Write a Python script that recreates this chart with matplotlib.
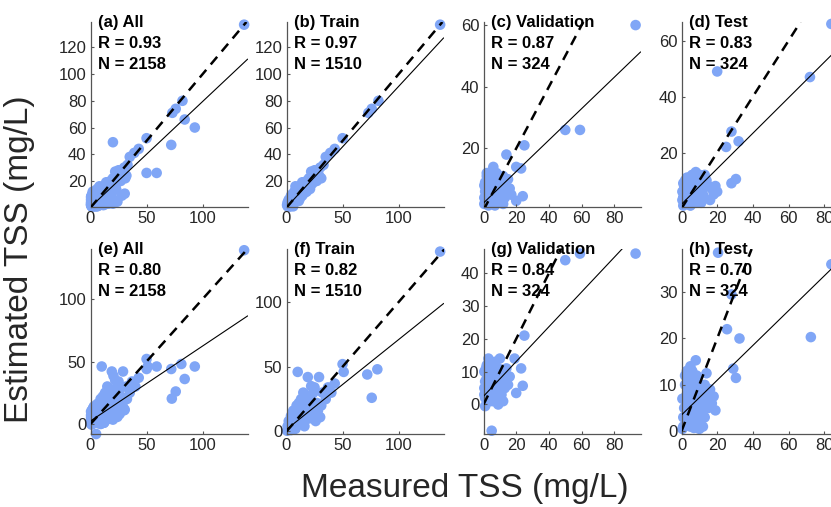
import matplotlib.pyplot as plt

plt.rcParams['font.family'] = ['Liberation Sans', 'DejaVu Sans']

# measured / estimated TSS (mg/L)
# model 1 (top row)
train1_x = [137, 82, 76, 73, 50, 43, 39, 35, 30, 31, 27, 18, 12, 3, 1, 0.5, 6, 4, 8, 14, 22,
            1, 2, 3, 4, 5, 6, 7, 8, 10, 10, 12, 9, 13, 15, 15, 17, 18, 20, 20, 22, 24, 26, 25, 28,
            2, 5, 7, 11, 16, 19, 23, 29, 33, 11, 6, 3, 14, 21]
train1_y = [137, 80, 74, 71, 52, 44, 41, 38, 30, 22, 20, 12, 7, 0.8, 4, 2, 3, 9, 16, 19, 27,
            1, 3, 2, 5, 4, 7, 6, 9, 8, 12, 10, 15, 14, 13, 17, 15, 20, 18, 22, 20, 25, 24, 28, 26,
            6, 10, 12, 14, 11, 16, 18, 24, 32, 5, 1, 6, 9, 14]
val1_x = [93, 50, 59, 25, 14, 20, 23, 24, 20, 6, 0.5, 1, 1, 2, 2, 3, 3, 4, 4, 5, 5, 6, 6, 7, 7,
          8, 8, 9, 10, 10, 11, 12, 13, 14, 16, 3, 1, 2, 12, 9,
          0.5, 1.5, 2.5, 4, 5, 6.5, 8, 9.5, 11, 13, 15, 17, 3.5, 0.5, 2]
val1_y = [60, 26, 26, 21, 18, 14, 13.5, 4.5, 3, 14, 2, 4, 6, 3, 8, 1.5, 5, 10, 3, 7, 2, 4, 11, 9,
          1.5, 5, 12, 3, 8, 10, 6, 11, 4, 7, 7, 12, 9, 11, 2, 6,
          4, 7, 9, 6, 12, 7, 10, 9, 9, 9, 10, 5, 3, 8, 12]
test1_x = [84, 20, 72, 28, 25, 32, 30.5, 28, 1, 1, 2, 2, 3, 3, 4, 4, 5, 5, 6, 6, 7, 7, 8, 8, 9,
           10, 10, 11, 12, 13, 14, 15, 18, 19, 2, 0.5, 11, 16,
           0.5, 1.5, 3, 4.5, 6, 7.5, 9, 10.5, 12, 14, 17, 20, 5, 8, 1]
test1_y = [66, 49, 47, 27.5, 22, 24, 10.5, 9, 1, 4, 7, 2, 5, 9, 3, 11, 6, 1, 8, 12, 4, 10, 6, 13,
           3, 9, 12, 7, 5, 12, 8, 8, 5, 8, 10, 6, 2, 3,
           3, 8, 11, 8, 10, 12, 11, 5, 10, 10, 7, 6, 4, 2, 9]

# model 2 (bottom row)
train2_x = [137, 81, 72, 76, 50, 51, 10, 19, 29, 25, 15, 37, 43, 35, 30, 22, 20, 18, 12, 8, 5,
            3, 2, 1, 6, 10, 14, 16, 20, 24, 26, 28, 12, 9, 4, 0.5, 7, 17, 32, 40, 22, 13,
            2, 4, 6, 9, 11, 14, 17, 20, 23, 27, 31, 3, 8, 12, 16, 24]
train2_y = [139, 48, 44, 26, 52, 46, 46, 42, 42, 34, 30, 34, 37, 25, 11, 28, 20, 15, 18, 14, 10,
            6, 2, 4, 3, 5, 8, 4, 10, 12, 8, 16, 12, 20, 1, 0.5, 7, 24, 30, 30, 35, 25,
            8, 12, 16, 10, 22, 18, 12, 25, 18, 22, 20, 3, 2, 6, 9, 30]
val2_x = [93, 59, 50, 25, 19, 23, 24, 20, 16, 10, 5, 1, 9, 0.5, 1, 2, 2, 3, 3, 4, 4, 5, 5, 6, 6,
          7, 7, 8, 8, 9, 10, 11, 12, 13, 14, 15, 0.5, 3, 12, 1,
          1.5, 2.5, 4, 5.5, 7, 8.5, 10, 11.5, 13, 2, 6, 9, 4, 0.5]
val2_y = [46, 46, 44, 21, 14, 11, 5.7, 3.5, 8.5, 14, -8, -0.5, 0, 5, 2, 8, 4, 10, 1, 6, 12, 3, 9,
          11, 1, 6, 13, 4, 9, 11, 7, 3, 9, 5, 11, 6, 10, 14, 1, 7,
          11, 6, 8, 10, 8, 6, 10, 7, 8, 12, 5, 3, 1, 3]
test2_x = [20.5, 84, 72.5, 28, 25.5, 32.5, 29, 30.5, 8, 14, 18, 19, 7, 0.5, 1, 1, 2, 2, 3, 3, 4,
           4, 5, 5, 6, 6, 7, 7, 8, 9, 9, 10, 11, 12, 13, 15, 16, 3, 10, 5, 0.5,
           1.5, 2.5, 4, 5.5, 7, 8.5, 10, 11.5, 13, 14.5, 17, 6, 9, 2, 12]
test2_y = [38.5, 36, 20.3, 29.5, 22, 20, 13.5, 11.5, 15.3, 12.5, 7.5, 4.5, 0.7, 7, 3, 1, 5, 10, 2,
           8, 4, 12, 6, 1, 9, 3, 11, 5, 7, 2, 10, 6, 4, 8, 3, 5, 9, 13, 0.5, 14, 0.5,
           5, 7, 9, 11, 8, 12, 9, 6, 10, 7, 6, 13, 4, 12, 1]

titles = ['(a) All', '(b) Train', '(c) Validation', '(d) Test',
          '(e) All', '(f) Train', '(g) Validation', '(h) Test']
r_vals = ['0.93', '0.97', '0.87', '0.83', '0.80', '0.82', '0.84', '0.70']
n_vals = ['2158', '1510', '324', '324', '2158', '1510', '324', '324']

# fitted line (slope, intercept)
fit_slope = [0.79, 0.905, 0.51, 0.635, 0.60, 0.695, 0.53, 0.375]
fit_icpt = [0.5, 0.3, 2.3, 1.5, 2.4, 1.5, 2.5, 3.5]

xlims = [(0, 140), (0, 140), (0, 96), (0, 88), (0, 140), (0, 140), (0, 96), (0, 88)]
ylims = [(0.5, 139), (0.5, 139), (1, 61), (0.5, 66.7),
         (-8, 140), (-2, 141), (-9, 47.4), (-0.6, 39.3)]
xticks = [[0, 50, 100], [0, 50, 100], [0, 20, 40, 60, 80], [0, 20, 40, 60, 80]] * 2
yticks = [[20, 40, 60, 80, 100, 120], [20, 40, 60, 80, 100, 120], [20, 40, 60], [20, 40, 60],
          [0, 50, 100], [0, 50, 100], [0, 10, 20, 30, 40], [0, 10, 20, 30]]

xs = [train1_x + val1_x + test1_x, train1_x, val1_x, test1_x,
      train2_x + val2_x + test2_x, train2_x, val2_x, test2_x]
ys = [train1_y + val1_y + test1_y, train1_y, val1_y, test1_y,
      train2_y + val2_y + test2_y, train2_y, val2_y, test2_y]

W, H = 831, 507
fig = plt.figure(figsize=(W / 100, H / 100), dpi=100)

lefts = [90.5, 286.5, 483.5, 681.5]
tops = [22, 249]
aw, ah = 157, 185
dark = '#262626'
blue = '#80A6F6'

for i in range(8):
    r, c = divmod(i, 4)
    ax = fig.add_axes([lefts[c] / W, 1 - (tops[r] + ah) / H, aw / W, ah / H])
    ax.patch.set_visible(False)
    ax.scatter(xs[i], ys[i], s=58, color=blue, edgecolors='none', clip_on=False, zorder=1)
    x0, x1 = xlims[i]
    ax.plot([x0, x1], [fit_icpt[i] + fit_slope[i] * x0, fit_icpt[i] + fit_slope[i] * x1],
            color='black', lw=0.8, zorder=3)
    top = ylims[i][1]
    ax.plot([0, top], [0, top], color='black', lw=1.8, ls=(0, (4, 2.8)), zorder=3)
    ax.set_xlim(xlims[i])
    ax.set_ylim(ylims[i])
    ax.set_xticks(xticks[i])
    ax.set_yticks(yticks[i])
    for s in ['top', 'right']:
        ax.spines[s].set_visible(False)
    for s in ['left', 'bottom']:
        ax.spines[s].set_color('#555555')
        ax.spines[s].set_linewidth(0.9)
    ax.tick_params(direction='in', length=2.5, width=0.8, color='#555555',
                   labelsize=12, labelcolor=dark, pad=3)
    lines = [titles[i], 'R = ' + r_vals[i], 'N = ' + n_vals[i]]
    for k, t in enumerate(lines):
        ax.annotate(t, xy=(0, 1), xycoords='axes fraction', xytext=(5.5, -3.6 - 15.1 * k),
                    textcoords='offset points', fontsize=12, fontweight='bold',
                    color='black', va='baseline', ha='left', zorder=2)

fig.text(465 / W, 1 - 488 / H, 'Measured TSS (mg/L)', fontsize=24, color=dark,
         ha='center', va='center')
fig.text(20 / W, 1 - 259 / H, 'Estimated TSS (mg/L)', fontsize=24, color=dark,
         ha='center', va='center', rotation=90)

fig.savefig('out.png', dpi=100)
